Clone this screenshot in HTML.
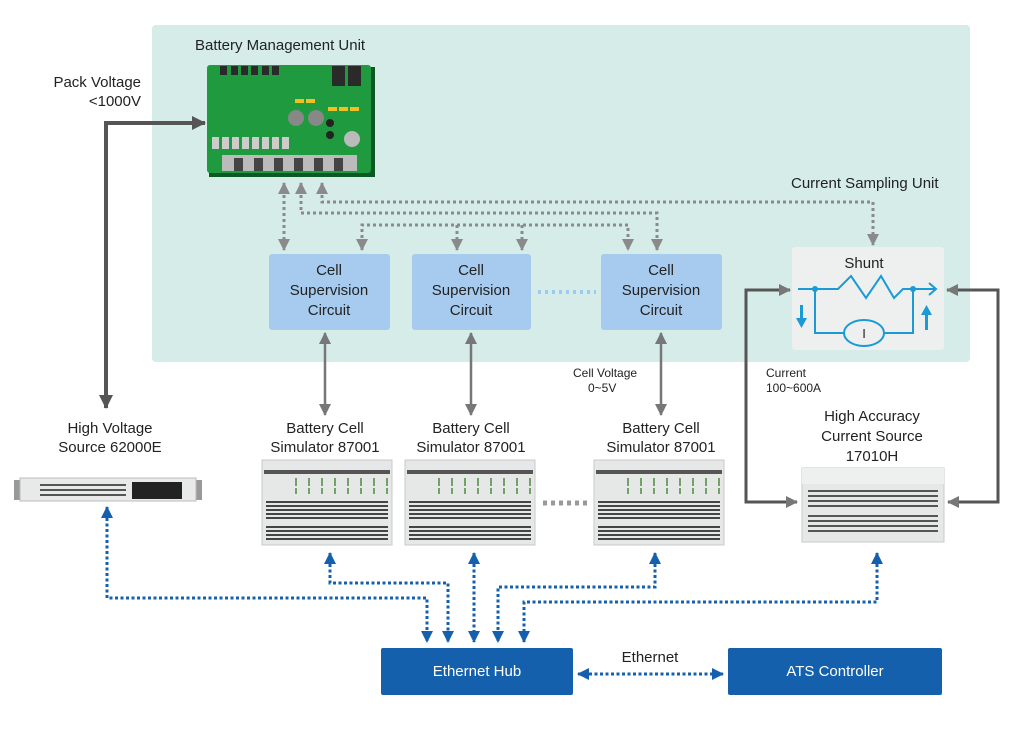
<!DOCTYPE html>
<html><head><meta charset="utf-8"><style>
html,body{margin:0;padding:0;background:#fff;}
svg{display:block;font-family:"Liberation Sans",sans-serif;}
</style></head><body>
<svg width="1024" height="730" viewBox="0 0 1024 730" xmlns="http://www.w3.org/2000/svg">
<defs>
<marker id="gd" markerWidth="14" markerHeight="14" refX="13" refY="7" orient="auto" markerUnits="userSpaceOnUse"><path d="M0,0 L14,7 L0,14z" fill="#555"/></marker>
<marker id="gs" markerWidth="12" markerHeight="12" refX="11" refY="6" orient="auto-start-reverse" markerUnits="userSpaceOnUse"><path d="M0,0 L12,6 L0,12z" fill="#8a8a8a"/></marker>
<marker id="gm" markerWidth="12" markerHeight="12" refX="11" refY="6" orient="auto-start-reverse" markerUnits="userSpaceOnUse"><path d="M0,0 L12,6 L0,12z" fill="#777"/></marker>
<marker id="bl" markerWidth="12" markerHeight="12" refX="11" refY="6" orient="auto-start-reverse" markerUnits="userSpaceOnUse"><path d="M0,0 L12,6 L0,12z" fill="#1560ae"/></marker>
<g id="sim">
<rect x="0" y="0" width="130" height="85" fill="#e6e8e8" stroke="#c8c8c8"/>
<rect x="2" y="10" width="126" height="4" fill="#555"/>
<g stroke="#4a8a3a" stroke-width="1.5"><path d="M34,18v8M47,18v8M60,18v8M73,18v8M86,18v8M99,18v8M112,18v8M125,18v8M34,28v6M47,28v6M60,28v6M73,28v6M86,28v6M99,28v6M112,28v6M125,28v6"/></g>
<g fill="#444"><rect x="4" y="41" width="122" height="2"/><rect x="4" y="45" width="122" height="2"/><rect x="4" y="49" width="122" height="2"/><rect x="4" y="53" width="122" height="2"/><rect x="4" y="57" width="122" height="2"/><rect x="4" y="66" width="122" height="2"/><rect x="4" y="70" width="122" height="2"/><rect x="4" y="74" width="122" height="2"/><rect x="4" y="78" width="122" height="2"/></g>
</g>
</defs>
<rect x="152" y="25" width="818" height="337" rx="4" fill="#d5ece9"/>
<text x="195" y="50" font-size="15" fill="#222">Battery Management Unit</text>
<rect x="209" y="67" width="166" height="110" fill="#0b5a26"/>
<rect x="207" y="65" width="164" height="108" rx="3" fill="#1f9a3f"/>
<g fill="#2a2a2a"><rect x="220" y="66" width="7" height="9"/><rect x="231" y="66" width="7" height="9"/><rect x="241" y="66" width="7" height="9"/><rect x="251" y="66" width="7" height="9"/><rect x="262" y="66" width="7" height="9"/><rect x="272" y="66" width="7" height="9"/><rect x="332" y="66" width="13" height="20"/><rect x="348" y="66" width="13" height="20"/></g>
<g fill="#888"><circle cx="296" cy="118" r="8"/><circle cx="316" cy="118" r="8"/></g>
<circle cx="352" cy="139" r="8" fill="#bbb"/>
<g fill="#222"><circle cx="330" cy="123" r="4"/><circle cx="330" cy="135" r="4"/></g>
<g fill="#f0c020"><rect x="295" y="99" width="9" height="4"/><rect x="306" y="99" width="9" height="4"/><rect x="328" y="107" width="9" height="4"/><rect x="339" y="107" width="9" height="4"/><rect x="350" y="107" width="9" height="4"/></g>
<rect x="222" y="155" width="135" height="16" fill="#bbb"/>
<g fill="#444"><rect x="234" y="158" width="9" height="13"/><rect x="254" y="158" width="9" height="13"/><rect x="274" y="158" width="9" height="13"/><rect x="294" y="158" width="9" height="13"/><rect x="314" y="158" width="9" height="13"/><rect x="334" y="158" width="9" height="13"/></g>
<g fill="#ccc"><rect x="212" y="137" width="7" height="12"/><rect x="222" y="137" width="7" height="12"/><rect x="232" y="137" width="7" height="12"/><rect x="242" y="137" width="7" height="12"/><rect x="252" y="137" width="7" height="12"/><rect x="262" y="137" width="7" height="12"/><rect x="272" y="137" width="7" height="12"/><rect x="282" y="137" width="7" height="12"/></g>
<text x="141" y="87" font-size="15" fill="#222" text-anchor="end">Pack Voltage</text>
<text x="141" y="106" font-size="15" fill="#222" text-anchor="end">&lt;1000V</text>
<path d="M106,408 V123 H205" fill="none" stroke="#555" stroke-width="4" marker-end="url(#gd)"/>
<path d="M106,123 V408" fill="none" stroke="#555" stroke-width="4" marker-end="url(#gd)"/>
<g fill="none" stroke="#8a8a8a" stroke-width="3" stroke-dasharray="3,3">
<path d="M284,183 V250" marker-start="url(#gs)" marker-end="url(#gs)"/>
<path d="M301,183 V213 H657 V250" marker-start="url(#gs)" marker-end="url(#gs)"/>
<path d="M322,183 V202 H873 V245" marker-start="url(#gs)" marker-end="url(#gs)"/>
<path d="M362,250 V225 H628 V250" marker-start="url(#gs)" marker-end="url(#gs)"/>
<path d="M457,225 V250" marker-end="url(#gs)"/>
<path d="M522,225 V250" marker-end="url(#gs)"/>
</g>
<g fill="#a7cbee"><rect x="269" y="254" width="121" height="76" rx="3"/><rect x="412" y="254" width="119" height="76" rx="3"/><rect x="601" y="254" width="121" height="76" rx="3"/></g>
<g font-size="15" fill="#222" text-anchor="middle">
<text x="329" y="275">Cell</text><text x="329" y="295">Supervision</text><text x="329" y="315">Circuit</text>
<text x="471" y="275">Cell</text><text x="471" y="295">Supervision</text><text x="471" y="315">Circuit</text>
<text x="661" y="275">Cell</text><text x="661" y="295">Supervision</text><text x="661" y="315">Circuit</text>
</g>
<path d="M538,292 H596" stroke="#9ccbf0" stroke-width="4" stroke-dasharray="3,4"/>
<g stroke="#777" stroke-width="2.5" fill="none">
<path d="M325,333 V415" marker-start="url(#gm)" marker-end="url(#gm)"/>
<path d="M471,333 V415" marker-start="url(#gm)" marker-end="url(#gm)"/>
<path d="M661,333 V415" marker-start="url(#gm)" marker-end="url(#gm)"/>
</g>
<text x="573" y="377" font-size="12" fill="#222">Cell Voltage</text>
<text x="588" y="392" font-size="12" fill="#222">0~5V</text>
<g font-size="15" fill="#222" text-anchor="middle">
<text x="325" y="433">Battery Cell</text><text x="325" y="452">Simulator 87001</text>
<text x="471" y="433">Battery Cell</text><text x="471" y="452">Simulator 87001</text>
<text x="661" y="433">Battery Cell</text><text x="661" y="452">Simulator 87001</text>
<text x="110" y="433">High Voltage</text><text x="110" y="452">Source 62000E</text>
</g>
<use href="#sim" x="262" y="460"/>
<use href="#sim" x="405" y="460"/>
<use href="#sim" x="594" y="460"/>
<path d="M543,503 H590" stroke="#999" stroke-width="5" stroke-dasharray="4,4"/>
<rect x="14" y="480" width="188" height="20" fill="#999"/>
<rect x="20" y="478" width="176" height="23" fill="#e8eaea" stroke="#bbb"/>
<g fill="#555"><rect x="40" y="484" width="86" height="2"/><rect x="40" y="489" width="86" height="2"/><rect x="40" y="494" width="86" height="2"/></g>
<rect x="132" y="482" width="50" height="17" fill="#222"/>
<text x="791" y="188" font-size="15" fill="#222">Current Sampling Unit</text>
<rect x="792" y="247" width="152" height="103" rx="3" fill="#eeefef"/>
<text x="864" y="268" font-size="15" fill="#222" text-anchor="middle">Shunt</text>
<g stroke="#1a9ad6" stroke-width="2" fill="none">
<path d="M798,289 H838 L851,276 L866,298 L881,276 L894,298 L903,289 H935"/>
<path d="M929,283 L936,289 L929,295"/>
<path d="M815,289 V333 H844 M884,333 H913 V289"/>
<ellipse cx="864" cy="333" rx="20" ry="13"/>
</g>
<g fill="#1a9ad6"><circle cx="815" cy="289" r="3"/><circle cx="913" cy="289" r="3"/>
<rect x="800" y="305" width="3" height="15"/><path d="M796,318 L807,318 L801.5,328z"/>
<rect x="925" y="314" width="3" height="16"/><path d="M921,315 L932,315 L926.5,305z"/></g>
<text x="864" y="338" font-size="13" fill="#222" text-anchor="middle">I</text>
<text x="766" y="377" font-size="12" fill="#222">Current</text>
<text x="766" y="392" font-size="12" fill="#222">100~600A</text>
<g font-size="15" fill="#222" text-anchor="middle">
<text x="872" y="421">High Accuracy</text><text x="872" y="441">Current Source</text><text x="872" y="461">17010H</text>
</g>
<rect x="802" y="468" width="142" height="74" fill="#e6e8e8" stroke="#c8c8c8"/>
<rect x="802" y="468" width="142" height="16" fill="#eef0f0"/>
<g fill="#555"><rect x="808" y="490" width="130" height="2"/><rect x="808" y="495" width="130" height="2"/><rect x="808" y="500" width="130" height="2"/><rect x="808" y="505" width="130" height="2"/><rect x="808" y="515" width="130" height="2"/><rect x="808" y="520" width="130" height="2"/><rect x="808" y="525" width="130" height="2"/><rect x="808" y="530" width="130" height="2"/></g>
<g stroke="#555" stroke-width="3" fill="none">
<path d="M790,290 H746 V502 H797" marker-start="url(#gm)" marker-end="url(#gm)"/>
<path d="M947,290 H998 V502 H948" marker-start="url(#gm)" marker-end="url(#gm)"/>
</g>
<g stroke="#1560ae" stroke-width="3" fill="none" stroke-dasharray="3,2.5">
<path d="M107,507 V598 H427 V642" marker-start="url(#bl)" marker-end="url(#bl)"/>
<path d="M330,553 V583 H448 V642" marker-start="url(#bl)" marker-end="url(#bl)"/>
<path d="M474,553 V642" marker-start="url(#bl)" marker-end="url(#bl)"/>
<path d="M655,553 V587 H498 V642" marker-start="url(#bl)" marker-end="url(#bl)"/>
<path d="M877,553 V602 H524 V642" marker-start="url(#bl)" marker-end="url(#bl)"/>
<path d="M578,674 H723" marker-start="url(#bl)" marker-end="url(#bl)"/>
</g>
<rect x="381" y="648" width="192" height="47" rx="2" fill="#1460ad"/>
<rect x="728" y="648" width="214" height="47" rx="2" fill="#1460ad"/>
<text x="477" y="676" font-size="15" fill="#fff" text-anchor="middle">Ethernet Hub</text>
<text x="835" y="676" font-size="15" fill="#fff" text-anchor="middle">ATS Controller</text>
<text x="650" y="662" font-size="15" fill="#222" text-anchor="middle">Ethernet</text>
</svg>
</body></html>
